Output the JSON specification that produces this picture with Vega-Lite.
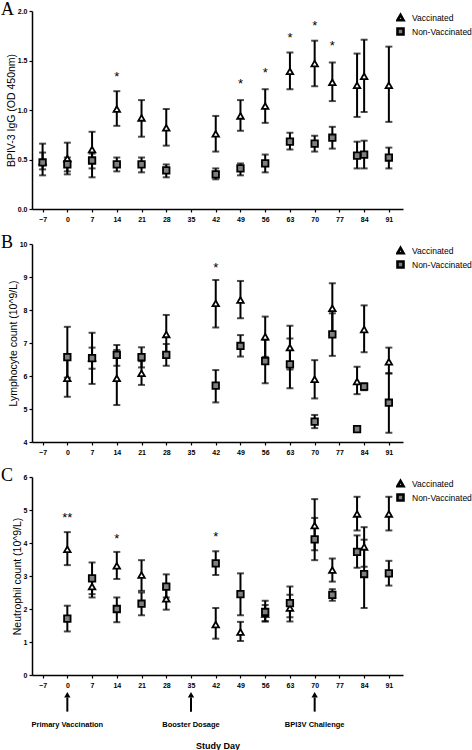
{
  "$schema": "https://vega.github.io/schema/vega-lite/v6.json",
  "background": "white",
  "padding": 0,
  "autosize": {"type": "pad"},
  "datasets": {
    "A": [
      {"day": -7, "group": "Vaccinated", "mean": 0.48, "lo": 0.34, "hi": 0.66},
      {"day": 0, "group": "Vaccinated", "mean": 0.51, "lo": 0.35, "hi": 0.67},
      {"day": 7, "group": "Vaccinated", "mean": 0.60, "lo": 0.32, "hi": 0.78},
      {"day": 14, "group": "Vaccinated", "mean": 1.01, "lo": 0.84, "hi": 1.19},
      {"day": 21, "group": "Vaccinated", "mean": 0.92, "lo": 0.73, "hi": 1.10},
      {"day": 28, "group": "Vaccinated", "mean": 0.82, "lo": 0.64, "hi": 1.01},
      {"day": 42, "group": "Vaccinated", "mean": 0.76, "lo": 0.58, "hi": 0.94},
      {"day": 49, "group": "Vaccinated", "mean": 0.94, "lo": 0.79, "hi": 1.10},
      {"day": 56, "group": "Vaccinated", "mean": 1.04, "lo": 0.87, "hi": 1.21},
      {"day": 63, "group": "Vaccinated", "mean": 1.39, "lo": 1.21, "hi": 1.58},
      {"day": 70, "group": "Vaccinated", "mean": 1.47, "lo": 1.24, "hi": 1.70},
      {"day": 75, "group": "Vaccinated", "mean": 1.28, "lo": 1.09, "hi": 1.48},
      {"day": 82, "group": "Vaccinated", "mean": 1.25, "lo": 0.93, "hi": 1.57},
      {"day": 84, "group": "Vaccinated", "mean": 1.34, "lo": 0.98, "hi": 1.71},
      {"day": 91, "group": "Vaccinated", "mean": 1.25, "lo": 0.88, "hi": 1.64},
      {"day": -7, "group": "Non-Vaccinated", "mean": 0.47, "lo": 0.40, "hi": 0.57},
      {"day": 0, "group": "Non-Vaccinated", "mean": 0.45, "lo": 0.38, "hi": 0.52},
      {"day": 7, "group": "Non-Vaccinated", "mean": 0.49, "lo": 0.41, "hi": 0.56},
      {"day": 14, "group": "Non-Vaccinated", "mean": 0.45, "lo": 0.38, "hi": 0.52},
      {"day": 21, "group": "Non-Vaccinated", "mean": 0.45, "lo": 0.37, "hi": 0.52},
      {"day": 28, "group": "Non-Vaccinated", "mean": 0.39, "lo": 0.32, "hi": 0.45},
      {"day": 42, "group": "Non-Vaccinated", "mean": 0.35, "lo": 0.30, "hi": 0.41},
      {"day": 49, "group": "Non-Vaccinated", "mean": 0.41, "lo": 0.34, "hi": 0.46},
      {"day": 56, "group": "Non-Vaccinated", "mean": 0.46, "lo": 0.37, "hi": 0.55},
      {"day": 63, "group": "Non-Vaccinated", "mean": 0.68, "lo": 0.60, "hi": 0.77},
      {"day": 70, "group": "Non-Vaccinated", "mean": 0.66, "lo": 0.58, "hi": 0.74},
      {"day": 75, "group": "Non-Vaccinated", "mean": 0.72, "lo": 0.61, "hi": 0.83},
      {"day": 82, "group": "Non-Vaccinated", "mean": 0.54, "lo": 0.41, "hi": 0.68},
      {"day": 84, "group": "Non-Vaccinated", "mean": 0.55, "lo": 0.41, "hi": 0.69},
      {"day": 91, "group": "Non-Vaccinated", "mean": 0.52, "lo": 0.41, "hi": 0.62}
    ],
    "B": [
      {"day": 0, "group": "Vaccinated", "mean": 5.93, "lo": 5.37, "hi": 6.49},
      {"day": 7, "group": "Vaccinated", "mean": 6.55, "lo": 5.76, "hi": 7.31},
      {"day": 14, "group": "Vaccinated", "mean": 5.93, "lo": 5.12, "hi": 6.79},
      {"day": 21, "group": "Vaccinated", "mean": 6.08, "lo": 5.73, "hi": 6.45},
      {"day": 28, "group": "Vaccinated", "mean": 7.26, "lo": 6.67, "hi": 7.85},
      {"day": 42, "group": "Vaccinated", "mean": 8.20, "lo": 7.47, "hi": 8.91},
      {"day": 49, "group": "Vaccinated", "mean": 8.30, "lo": 7.75, "hi": 8.88},
      {"day": 56, "group": "Vaccinated", "mean": 7.19, "lo": 6.58, "hi": 7.80},
      {"day": 63, "group": "Vaccinated", "mean": 6.86, "lo": 6.20, "hi": 7.52},
      {"day": 70, "group": "Vaccinated", "mean": 5.90, "lo": 5.32, "hi": 6.48},
      {"day": 75, "group": "Vaccinated", "mean": 8.05, "lo": 7.30, "hi": 8.81},
      {"day": 82, "group": "Vaccinated", "mean": 5.83, "lo": 5.45, "hi": 6.28},
      {"day": 84, "group": "Vaccinated", "mean": 7.41, "lo": 6.72, "hi": 8.14},
      {"day": 91, "group": "Vaccinated", "mean": 6.43, "lo": 6.08, "hi": 6.86},
      {"day": 0, "group": "Non-Vaccinated", "mean": 6.57, "lo": 5.95, "hi": 7.49},
      {"day": 7, "group": "Non-Vaccinated", "mean": 6.54, "lo": 6.22, "hi": 6.86},
      {"day": 14, "group": "Non-Vaccinated", "mean": 6.64, "lo": 6.31, "hi": 6.94},
      {"day": 21, "group": "Non-Vaccinated", "mean": 6.57, "lo": 6.26, "hi": 6.87},
      {"day": 28, "group": "Non-Vaccinated", "mean": 6.64, "lo": 6.31, "hi": 6.97},
      {"day": 42, "group": "Non-Vaccinated", "mean": 5.71, "lo": 5.20, "hi": 6.18},
      {"day": 49, "group": "Non-Vaccinated", "mean": 6.91, "lo": 6.59, "hi": 7.24},
      {"day": 56, "group": "Non-Vaccinated", "mean": 6.45, "lo": 5.78, "hi": 7.10},
      {"day": 63, "group": "Non-Vaccinated", "mean": 6.35, "lo": 5.63, "hi": 7.14},
      {"day": 70, "group": "Non-Vaccinated", "mean": 4.62, "lo": 4.42, "hi": 4.82},
      {"day": 75, "group": "Non-Vaccinated", "mean": 7.26, "lo": 6.61, "hi": 7.90},
      {"day": 82, "group": "Non-Vaccinated", "mean": 4.39, "lo": 4.35, "hi": 4.43},
      {"day": 84, "group": "Non-Vaccinated", "mean": 5.68, "lo": 5.57, "hi": 5.78},
      {"day": 91, "group": "Non-Vaccinated", "mean": 5.19, "lo": 4.28, "hi": 6.08}
    ],
    "C": [
      {"day": 0, "group": "Vaccinated", "mean": 3.81, "lo": 3.33, "hi": 4.33},
      {"day": 7, "group": "Vaccinated", "mean": 2.68, "lo": 2.35, "hi": 2.98},
      {"day": 14, "group": "Vaccinated", "mean": 3.31, "lo": 2.91, "hi": 3.73},
      {"day": 21, "group": "Vaccinated", "mean": 3.03, "lo": 2.55, "hi": 3.48},
      {"day": 28, "group": "Vaccinated", "mean": 2.31, "lo": 1.98, "hi": 2.64},
      {"day": 42, "group": "Vaccinated", "mean": 1.53, "lo": 1.10, "hi": 2.03},
      {"day": 49, "group": "Vaccinated", "mean": 1.30, "lo": 1.03, "hi": 1.61},
      {"day": 56, "group": "Vaccinated", "mean": 1.85, "lo": 1.62, "hi": 2.12},
      {"day": 63, "group": "Vaccinated", "mean": 2.03, "lo": 1.62, "hi": 2.43},
      {"day": 70, "group": "Vaccinated", "mean": 4.53, "lo": 3.78, "hi": 5.33},
      {"day": 75, "group": "Vaccinated", "mean": 3.18, "lo": 2.83, "hi": 3.53},
      {"day": 82, "group": "Vaccinated", "mean": 4.88, "lo": 4.38, "hi": 5.40},
      {"day": 84, "group": "Vaccinated", "mean": 3.88, "lo": 3.28, "hi": 4.48},
      {"day": 91, "group": "Vaccinated", "mean": 4.88, "lo": 4.38, "hi": 5.40},
      {"day": 0, "group": "Non-Vaccinated", "mean": 1.71, "lo": 1.32, "hi": 2.10},
      {"day": 7, "group": "Non-Vaccinated", "mean": 2.93, "lo": 2.45, "hi": 3.41},
      {"day": 14, "group": "Non-Vaccinated", "mean": 2.00, "lo": 1.60, "hi": 2.35},
      {"day": 21, "group": "Non-Vaccinated", "mean": 2.16, "lo": 1.81, "hi": 2.50},
      {"day": 28, "group": "Non-Vaccinated", "mean": 2.68, "lo": 2.35, "hi": 3.05},
      {"day": 42, "group": "Non-Vaccinated", "mean": 3.38, "lo": 3.03, "hi": 3.75},
      {"day": 49, "group": "Non-Vaccinated", "mean": 2.45, "lo": 1.81, "hi": 3.08},
      {"day": 56, "group": "Non-Vaccinated", "mean": 1.91, "lo": 1.63, "hi": 2.25},
      {"day": 63, "group": "Non-Vaccinated", "mean": 2.18, "lo": 1.75, "hi": 2.68},
      {"day": 70, "group": "Non-Vaccinated", "mean": 4.11, "lo": 3.48, "hi": 4.76},
      {"day": 75, "group": "Non-Vaccinated", "mean": 2.43, "lo": 2.25, "hi": 2.60},
      {"day": 82, "group": "Non-Vaccinated", "mean": 3.73, "lo": 3.25, "hi": 4.23},
      {"day": 84, "group": "Non-Vaccinated", "mean": 3.06, "lo": 2.03, "hi": 4.10},
      {"day": 91, "group": "Non-Vaccinated", "mean": 3.08, "lo": 2.71, "hi": 3.46}
    ],
    "starsA": [
      {"day": 14, "value": 1.35, "label": "*"},
      {"day": 49, "value": 1.28, "label": "*"},
      {"day": 56, "value": 1.39, "label": "*"},
      {"day": 63, "value": 1.75, "label": "*"},
      {"day": 70, "value": 1.87, "label": "*"},
      {"day": 75, "value": 1.67, "label": "*"}
    ],
    "starsB": [
      {"day": 42, "value": 9.33, "label": "*"}
    ],
    "starsC": [
      {"day": 0, "value": 4.81, "label": "**"},
      {"day": 14, "value": 4.18, "label": "*"},
      {"day": 42, "value": 4.25, "label": "*"}
    ],
    "events": [
      {"day": 0, "label": "Primary Vaccination"},
      {"day": 35, "label": "Booster  Dosage"},
      {"day": 70, "label": "BPI3V Challenge"}
    ]
  },
  "config": {
    "view": {"stroke": null},
    "axis": {
      "grid": false,
      "domainColor": "black",
      "domainWidth": 1.5,
      "tickColor": "black",
      "tickWidth": 1.2,
      "tickSize": 3,
      "labelFont": "Liberation Sans",
      "labelFontWeight": "bold",
      "labelFontSize": 7,
      "labelColor": "black",
      "labelPadding": 2,
      "labelOverlap": false,
      "titleFont": "Liberation Sans",
      "titleFontWeight": "normal",
      "titleFontSize": 10.5,
      "titleColor": "black"
    },
    "legend": {
      "orient": "none",
      "legendX": 364,
      "legendY": 1,
      "padding": 0,
      "rowPadding": 3,
      "clipHeight": 11,
      "labelFont": "Liberation Sans",
      "labelFontSize": 8.5,
      "labelColor": "black",
      "labelOffset": 7,
      "symbolSize": 36,
      "symbolStrokeColor": "black",
      "symbolStrokeWidth": 2.6
    },
    "concat": {"spacing": 11}
  },
  "resolve": {
    "scale": {"x": "independent", "y": "independent", "shape": "independent", "fill": "independent", "stroke": "independent"},
    "legend": {"shape": "independent", "fill": "independent", "stroke": "independent"}
  },
  "vconcat": [
    {
      "width": 371,
      "height": 198,
      "layer": [
        {
          "data": {"name": "A"},
          "mark": {"type": "errorbar", "color": "black", "thickness": 2, "ticks": {"size": 7}},
          "encoding": {
            "x": {"field": "day", "type": "quantitative", "scale": {"domain": [-10, 95], "nice": false}, "axis": {"values": [-7, 0, 7, 14, 21, 28, 35, 42, 49, 56, 63, 70, 77, 84, 91], "tickCount": 30, "title": null, "labelPadding": 3, "labelOverlap": false, "labelFlush": false}},
            "y": {"field": "lo", "type": "quantitative", "scale": {"domain": [0, 2], "nice": false}, "axis": {"values": [0, 0.5, 1, 1.5, 2], "tickCount": 30, "format": ".1f", "title": "BPIV-3 IgG (OD 450nm)", "titlePadding": 1}},
            "y2": {"field": "hi"}
          }
        },
        {
          "data": {"name": "A"},
          "mark": {"type": "point", "filled": true, "strokeWidth": 1.8, "size": 42, "opacity": 1},
          "encoding": {
            "x": {"field": "day", "type": "quantitative"},
            "y": {"field": "mean", "type": "quantitative"},
            "shape": {"field": "group", "type": "nominal", "scale": {"domain": ["Vaccinated", "Non-Vaccinated"], "range": ["triangle-up", "square"]}, "legend": {"title": null}},
            "fill": {"field": "group", "type": "nominal", "scale": {"domain": ["Vaccinated", "Non-Vaccinated"], "range": ["white", "#7f7f7f"]}, "legend": {"title": null}},
            "stroke": {"field": "group", "type": "nominal", "scale": {"domain": ["Vaccinated", "Non-Vaccinated"], "range": ["black", "black"]}, "legend": {"title": null}}
          }
        },
        {
          "data": {"name": "starsA"},
          "mark": {"type": "text", "font": "Liberation Sans", "fontSize": 13, "fill": "black", "baseline": "middle", "dy": 2},
          "encoding": {
            "x": {"field": "day", "type": "quantitative"},
            "y": {"field": "value", "type": "quantitative"},
            "text": {"field": "label"}
          }
        },
        {
          "data": {"values": [{"panel": "A"}]},
          "mark": {"type": "text", "font": "Liberation Serif", "fontSize": 18, "fill": "black", "align": "left", "baseline": "alphabetic", "clip": false},
          "encoding": {
            "x": {"datum": -18.8},
            "y": {"datum": 1.96},
            "text": {"field": "panel"}
          }
        }
      ]
    },
    {
      "width": 371,
      "height": 198,
      "layer": [
        {
          "data": {"name": "B"},
          "mark": {"type": "errorbar", "color": "black", "thickness": 2, "ticks": {"size": 7}},
          "encoding": {
            "x": {"field": "day", "type": "quantitative", "scale": {"domain": [-10, 95], "nice": false}, "axis": {"values": [-7, 0, 7, 14, 21, 28, 35, 42, 49, 56, 63, 70, 77, 84, 91], "tickCount": 30, "title": null, "labelPadding": 3, "labelOverlap": false, "labelFlush": false}},
            "y": {"field": "lo", "type": "quantitative", "scale": {"domain": [4, 10], "nice": false, "zero": false}, "axis": {"values": [4, 5, 6, 7, 8, 9, 10], "tickCount": 30, "format": "d", "title": "Lymphocyte count (10^9/L)", "titlePadding": 1}},
            "y2": {"field": "hi"}
          }
        },
        {
          "data": {"name": "B"},
          "mark": {"type": "point", "filled": true, "strokeWidth": 1.8, "size": 42, "opacity": 1},
          "encoding": {
            "x": {"field": "day", "type": "quantitative"},
            "y": {"field": "mean", "type": "quantitative"},
            "shape": {"field": "group", "type": "nominal", "scale": {"domain": ["Vaccinated", "Non-Vaccinated"], "range": ["triangle-up", "square"]}, "legend": {"title": null}},
            "fill": {"field": "group", "type": "nominal", "scale": {"domain": ["Vaccinated", "Non-Vaccinated"], "range": ["white", "#7f7f7f"]}, "legend": {"title": null}},
            "stroke": {"field": "group", "type": "nominal", "scale": {"domain": ["Vaccinated", "Non-Vaccinated"], "range": ["black", "black"]}, "legend": {"title": null}}
          }
        },
        {
          "data": {"name": "starsB"},
          "mark": {"type": "text", "font": "Liberation Sans", "fontSize": 13, "fill": "black", "baseline": "middle", "dy": 2},
          "encoding": {
            "x": {"field": "day", "type": "quantitative"},
            "y": {"field": "value", "type": "quantitative"},
            "text": {"field": "label"}
          }
        },
        {
          "data": {"values": [{"panel": "B"}]},
          "mark": {"type": "text", "font": "Liberation Serif", "fontSize": 18, "fill": "black", "align": "left", "baseline": "alphabetic", "clip": false},
          "encoding": {
            "x": {"datum": -18.8},
            "y": {"datum": 9.88},
            "text": {"field": "panel"}
          }
        }
      ]
    },
    {
      "width": 371,
      "height": 198,
      "layer": [
        {
          "data": {"name": "C"},
          "mark": {"type": "errorbar", "color": "black", "thickness": 2, "ticks": {"size": 7}},
          "encoding": {
            "x": {"field": "day", "type": "quantitative", "scale": {"domain": [-10, 95], "nice": false}, "axis": {"values": [-7, 0, 7, 14, 21, 28, 35, 42, 49, 56, 63, 70, 77, 84, 91], "tickCount": 30, "title": "Study Day", "titleFontWeight": "bold", "titleFontSize": 9, "titlePadding": 53, "labelPadding": 3, "labelOverlap": false, "labelFlush": false}},
            "y": {"field": "lo", "type": "quantitative", "scale": {"domain": [0, 6], "nice": false}, "axis": {"values": [0, 1, 2, 3, 4, 5, 6], "tickCount": 30, "format": "d", "title": "Neutrophil count (10^9/L)", "titlePadding": 1}},
            "y2": {"field": "hi"}
          }
        },
        {
          "data": {"name": "C"},
          "mark": {"type": "point", "filled": true, "strokeWidth": 1.8, "size": 42, "opacity": 1},
          "encoding": {
            "x": {"field": "day", "type": "quantitative"},
            "y": {"field": "mean", "type": "quantitative"},
            "shape": {"field": "group", "type": "nominal", "scale": {"domain": ["Vaccinated", "Non-Vaccinated"], "range": ["triangle-up", "square"]}, "legend": {"title": null}},
            "fill": {"field": "group", "type": "nominal", "scale": {"domain": ["Vaccinated", "Non-Vaccinated"], "range": ["white", "#7f7f7f"]}, "legend": {"title": null}},
            "stroke": {"field": "group", "type": "nominal", "scale": {"domain": ["Vaccinated", "Non-Vaccinated"], "range": ["black", "black"]}, "legend": {"title": null}}
          }
        },
        {
          "data": {"name": "starsC"},
          "mark": {"type": "text", "font": "Liberation Sans", "fontSize": 13, "fill": "black", "baseline": "middle", "dy": 2},
          "encoding": {
            "x": {"field": "day", "type": "quantitative"},
            "y": {"field": "value", "type": "quantitative"},
            "text": {"field": "label"}
          }
        },
        {
          "data": {"values": [{"panel": "C"}]},
          "mark": {"type": "text", "font": "Liberation Serif", "fontSize": 18, "fill": "black", "align": "left", "baseline": "alphabetic", "clip": false},
          "encoding": {
            "x": {"datum": -18.8},
            "y": {"datum": 5.88},
            "text": {"field": "panel"}
          }
        },
        {
          "data": {"name": "events"},
          "mark": {"type": "rule", "color": "black", "strokeWidth": 2, "clip": false},
          "encoding": {
            "x": {"field": "day", "type": "quantitative"},
            "y": {"datum": -0.68},
            "y2": {"datum": -1.11}
          }
        },
        {
          "data": {"name": "events"},
          "mark": {"type": "point", "shape": "triangle-up", "filled": true, "color": "black", "size": 40, "opacity": 1, "clip": false},
          "encoding": {
            "x": {"field": "day", "type": "quantitative"},
            "y": {"datum": -0.6}
          }
        },
        {
          "data": {"name": "events"},
          "mark": {"type": "text", "font": "Liberation Sans", "fontSize": 7.5, "fontWeight": "bold", "fill": "black", "baseline": "middle", "clip": false},
          "encoding": {
            "x": {"field": "day", "type": "quantitative"},
            "y": {"datum": -1.5},
            "text": {"field": "label"}
          }
        }
      ]
    }
  ]
}
